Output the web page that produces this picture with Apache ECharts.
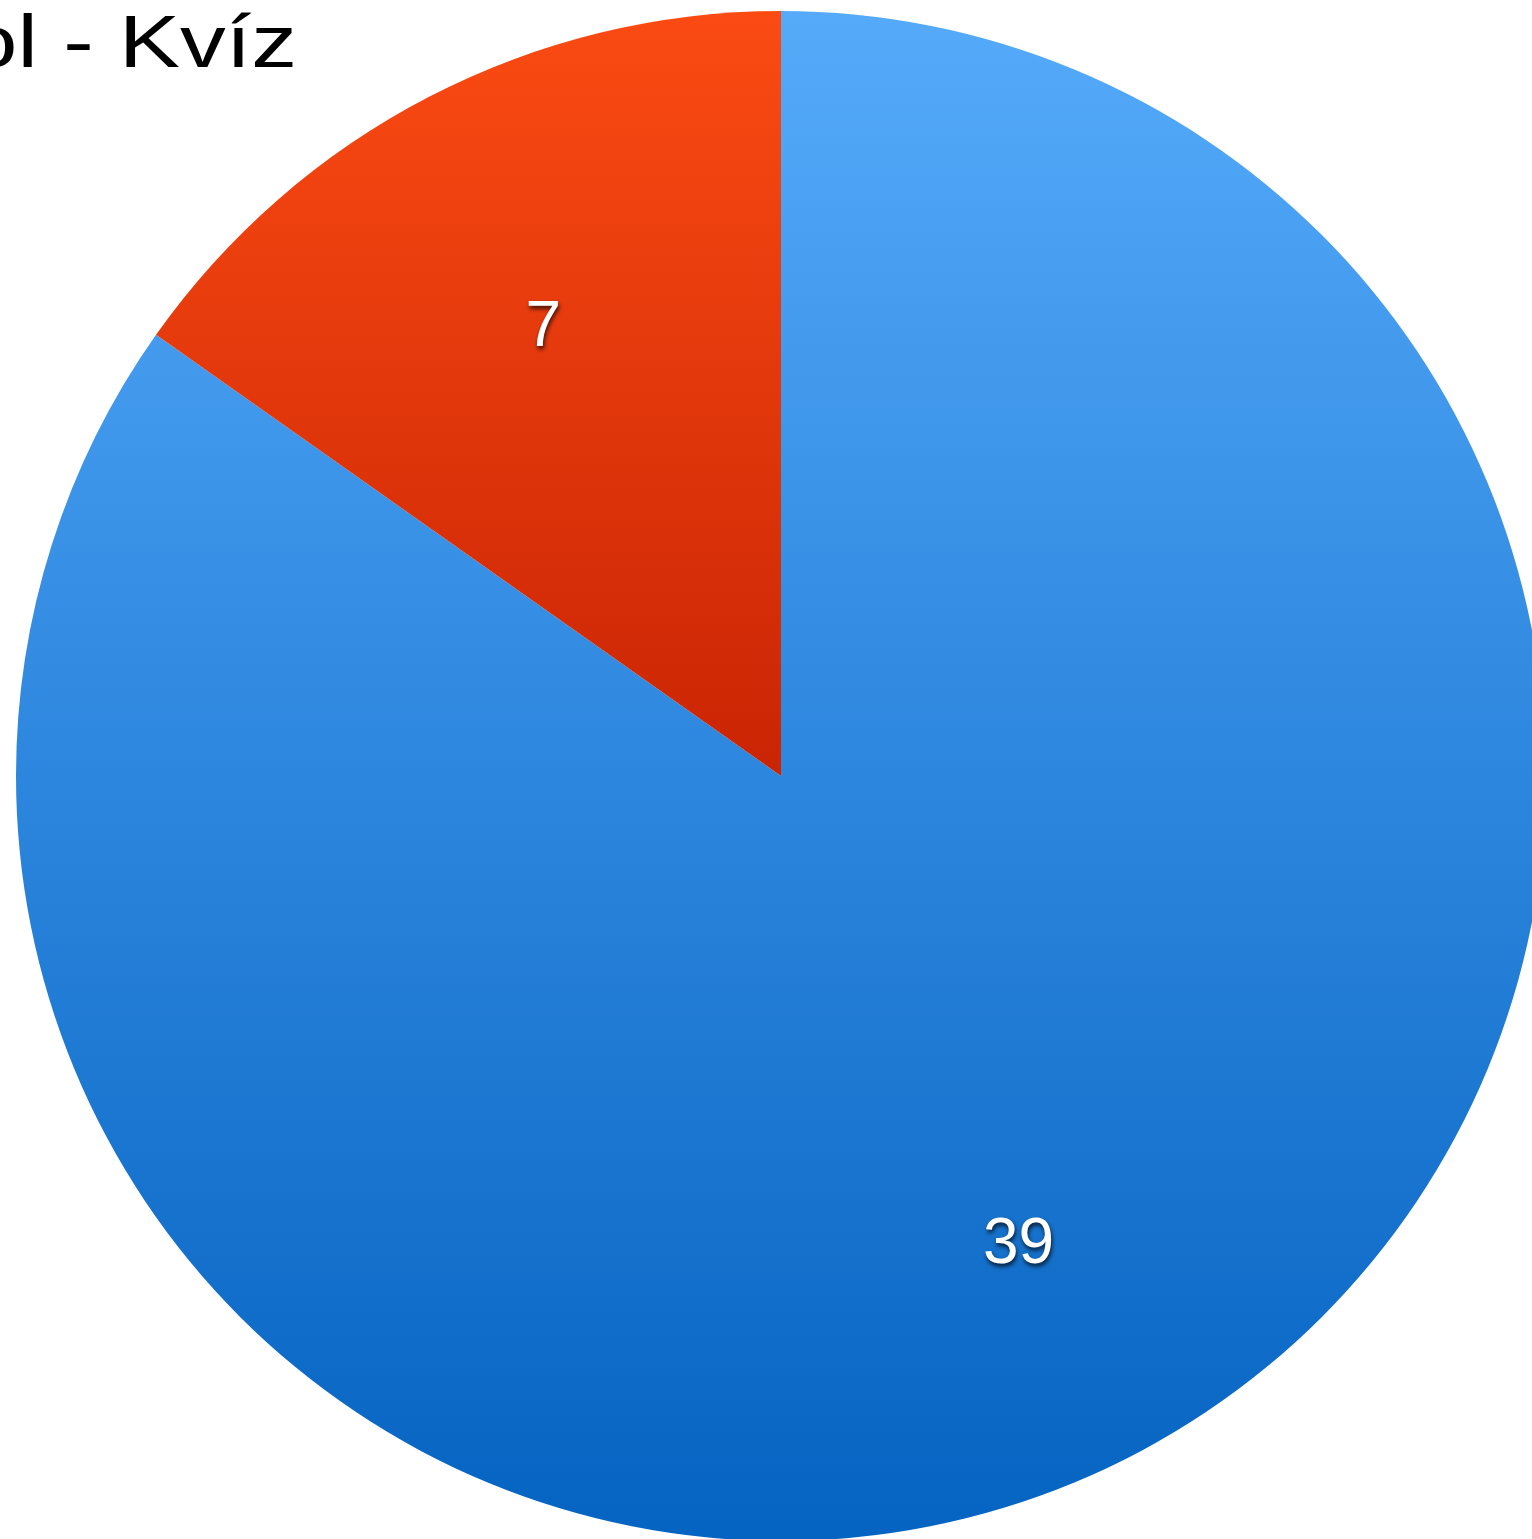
<!DOCTYPE html>
<html>
<head>
<meta charset="utf-8">
<style>
  html, body { margin: 0; padding: 0; background: #ffffff; }
  #chart { width: 1532px; height: 1539px; }
</style>
<script src="https://cdn.jsdelivr.net/npm/echarts@6/dist/echarts.min.js"></script>
</head>
<body>
<div id="chart"></div>
<script>
// Quiz answers
const titleText = 'Futbol - Kvíz';
const categories = ['Správně', 'Špatně'];
const values = [39, 7];

// Vertical gradients per slice (top colour, bottom colour)
const sliceTop = ['#55aafa', '#fb4b13'];
const sliceBottom = ['#0563c1', '#c92404'];

const chart = echarts.init(document.getElementById('chart'), null, { renderer: 'canvas' });

const pieCenter = [781, 776];
const pieRadius = 765;

function gradient(i) {
  return new echarts.graphic.LinearGradient(0, 0, 0, 1, [
    { offset: 0, color: sliceTop[i] },
    { offset: 1, color: sliceBottom[i] }
  ]);
}

const sliceData = categories.map((name, i) => ({
  name,
  value: values[i],
  itemStyle: { color: gradient(i) }
}));

const labelData = categories.map((name, i) => ({ name, value: values[i] }));

const valueTextStyle = {
  fontFamily: 'Liberation Sans, Arial, sans-serif',
  fontSize: 64,
  color: '#ffffff',
  textShadowColor: 'rgba(0,0,0,0.75)',
  textShadowBlur: 4,
  textShadowOffsetX: 1,
  textShadowOffsetY: 3
};

chart.setOption({
  backgroundColor: '#ffffff',
  animation: false,
  // heading, right-aligned and slightly widened
  graphic: [
    {
      type: 'text',
      x: 297,
      y: 46,
      scaleX: 1.22,
      silent: true,
      style: {
        text: titleText,
        fontFamily: 'Liberation Sans, Arial, sans-serif',
        fontSize: 75,
        fill: '#000000',
        textAlign: 'right',
        textVerticalAlign: 'middle',
        align: 'right',
        verticalAlign: 'middle'
      }
    }
  ],
  series: [
    {
      type: 'pie',
      center: pieCenter,
      radius: pieRadius,
      startAngle: 90,
      clockwise: true,
      silent: true,
      label: { show: false },
      labelLine: { show: false },
      itemStyle: { borderWidth: 0 },
      data: sliceData
    },
    {
      // value labels placed further out than the slice midpoint
      type: 'pie',
      center: pieCenter,
      radius: [262, pieRadius],
      startAngle: 90,
      clockwise: true,
      silent: true,
      itemStyle: { color: 'rgba(0,0,0,0)', borderWidth: 0 },
      labelLine: { show: false },
      label: Object.assign({
        show: true,
        position: 'inside',
        formatter: '{s| }\n{v|{c}}',
        rich: {
          s: { fontSize: 2, height: 22, lineHeight: 22 },
          v: Object.assign({ lineHeight: 70 }, valueTextStyle)
        }
      }, valueTextStyle),
      data: labelData
    }
  ]
});
</script>
</body>
</html>
